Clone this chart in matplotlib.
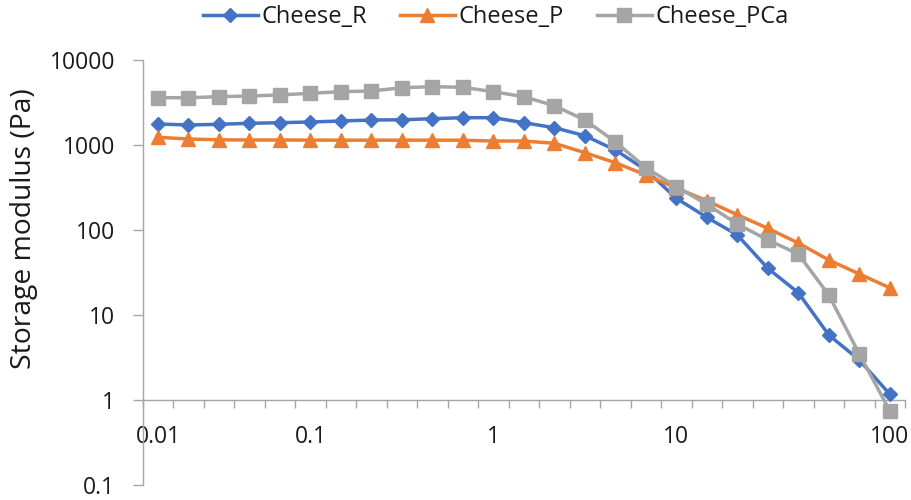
import numpy as np
import matplotlib
matplotlib.use("Agg")
import matplotlib.pyplot as plt

plt.rcParams['font.family'] = ['Open Sans', 'DejaVu Sans']

# Frequency sweep: 25 points, labelled only at selected positions
n_points = 25
tick_positions = [0, 5, 11, 17, 24]
tick_labels = ["0.01", "0.1", "1", "10", "100"]

# Storage modulus G' (Pa)
cheese_r = [1767, 1719, 1752, 1800, 1830, 1865, 1916, 1968, 1980, 2039, 2095, 2095,
            1830, 1598, 1286, 874, 508, 236, 141, 87.4, 35.4, 18.3, 5.82, 2.96, 1.17]
cheese_p = [1232, 1177, 1150, 1145, 1145, 1142, 1140, 1140, 1140, 1140, 1138, 1114,
            1114, 1047, 812, 619, 444, 312, 221, 151, 104.7, 70.3, 44.4, 30.4, 20.9]
cheese_pca = [3600, 3600, 3700, 3770, 3880, 4060, 4240, 4320, 4723, 4854, 4775, 4240,
              3700, 2900, 1970, 1090, 541, 323, 200.6, 117.6, 76.3, 52.2, 17.2, 3.48, 0.748]

series = [
    ("Cheese_R", cheese_r, "#4472C4", "D", 7.0),
    ("Cheese_P", cheese_p, "#ED7D31", "^", 10.0),
    ("Cheese_PCa", cheese_pca, "#A5A5A5", "s", 10.5),
]

axis_grey = "#A6A6A6"
text_col = "#1a1a1a"

fig = plt.figure(figsize=(9.12, 5.0), dpi=100)
ax = fig.add_axes([142.7 / 912, 1 - 485 / 500, (905 - 142.7) / 912, (485 - 60) / 500])

x = np.arange(n_points)
for i, (name, vals, col, mk, ms) in enumerate(series):
    ax.plot(x, vals, color=col, lw=2.5, marker=mk, markersize=ms,
            markeredgecolor=col, markerfacecolor=col, label=name,
            zorder=4 + i, clip_on=False)

ax.set_yscale('log')
ax.set_ylim(0.1, 10000)
ax.set_xlim(-0.5, n_points - 0.5)

ax.set_yticks([0.1, 1, 10, 100, 1000, 10000])
ax.set_yticklabels(["0.1", "1", "10", "100", "1000", "10000"])
ax.yaxis.set_minor_locator(matplotlib.ticker.NullLocator())

ax.set_xticks(tick_positions)
ax.set_xticklabels(tick_labels)
ax.set_xticks(np.arange(-0.5, n_points, 1.0), minor=True)

ax.spines['top'].set_visible(False)
ax.spines['right'].set_visible(False)
ax.spines['bottom'].set_position(('data', 1))
for s in ('left', 'bottom'):
    ax.spines[s].set_color(axis_grey)
    ax.spines[s].set_linewidth(1.0)

ax.tick_params(axis='y', which='major', direction='out', length=7, width=1,
               color=axis_grey, labelsize=16.5, labelcolor=text_col, pad=13)
ax.tick_params(axis='x', which='major', length=0, labelsize=16.5,
               labelcolor=text_col, pad=18)
ax.tick_params(axis='x', which='minor', direction='out', length=6, width=1,
               color=axis_grey)

fig.text(24.5 / 912, 1 - 229 / 500, "Storage modulus (Pa)", rotation=90,
         ha='center', va='center', fontsize=20.3, color=text_col)

leg = fig.legend(loc='center', bbox_to_anchor=(495.5 / 912, 1 - 17 / 500), ncol=3,
                 frameon=False, fontsize=17, handlelength=2.33,
                 handletextpad=0.15, columnspacing=1.4)
for t in leg.get_texts():
    t.set_color(text_col)

fig.savefig("out.png", dpi=100)
